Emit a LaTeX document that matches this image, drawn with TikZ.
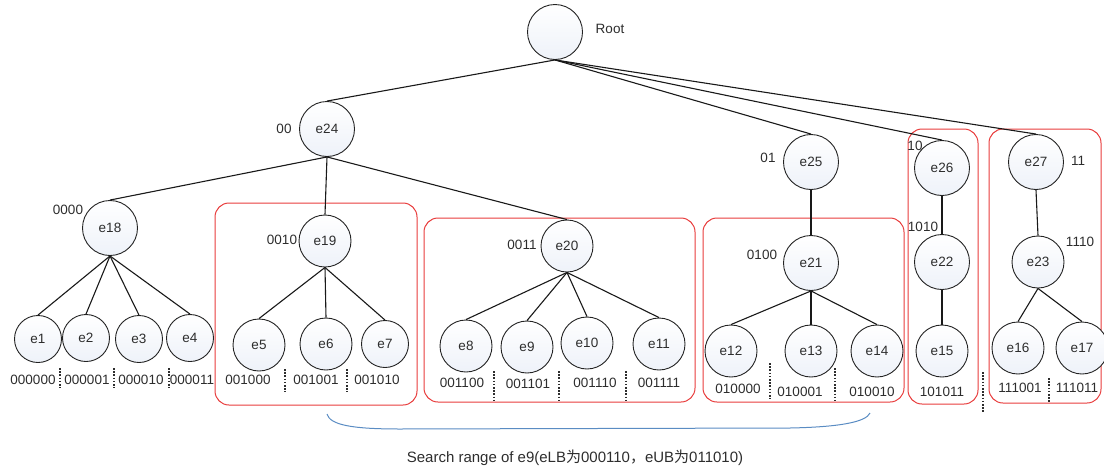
\documentclass[tikz,border=0pt]{standalone}
\usepackage{fontspec}
\setmainfont{Liberation Sans}
\newfontfamily\cjk{Noto Sans CJK SC}
\definecolor{txtgray}{RGB}{45,45,45}
\definecolor{circgray}{RGB}{35,35,35}
\definecolor{nodeshade}{RGB}{238,242,249}
\definecolor{boxred}{RGB}{232,60,60}
\definecolor{bracebl}{RGB}{90,140,195}
\begin{document}
\begin{tikzpicture}[x=1pt,y=-1pt,
  every node/.style={font=\fontsize{13.5}{15}\selectfont, text=txtgray},
  tnode/.style={circle, draw=circgray, line width=0.9pt, inner sep=0pt,
    minimum size=52pt, top color=white, bottom color=nodeshade},
  bignode/.style={tnode, minimum size=55pt},
  smallnode/.style={tnode, minimum size=47pt},
  edge/.style={draw=black!90, line width=1.1pt},
  groupbox/.style={draw=boxred, line width=1pt, rounded corners=14pt},
  sep/.style={draw=txtgray, line width=1.2pt, dash pattern=on 1.6pt off 1.6pt},
  bits/.style={inner sep=0pt},
  tag/.style={inner sep=0pt}
]
\useasboundingbox (0,0) rectangle (1104,472);

% group frames
\draw[groupbox] (215,203) rectangle (417,405);
\draw[groupbox] (424,218) rectangle (695,402);
\draw[groupbox] (703,218) rectangle (904,402);
\draw[groupbox] (908,129) rectangle (978,404);
\draw[groupbox] (989,129) rectangle (1101,403);

% tree nodes
\node[bignode] (root) at (555,32) {};
\node[bignode] (e24) at (327,129) {e24};
\node[bignode] (e25) at (811,162) {e25};
\node[bignode] (e26) at (942,168) {e26};
\node[bignode] (e27) at (1036,162) {e27};

\node[bignode] (e18) at (110,228) {e18};
\node[tnode] (e19) at (325,241) {e19};
\node[tnode] (e20) at (567,246) {e20};
\node[bignode] (e21) at (811,263) {e21};
\node[bignode] (e22) at (942,262) {e22};
\node[tnode] (e23) at (1038,262) {e23};

\node[smallnode] (e1) at (38,339) {e1};
\node[smallnode] (e2) at (86,338) {e2};
\node[smallnode] (e3) at (139,339) {e3};
\node[smallnode] (e4) at (190,338) {e4};
\node[tnode] (e5) at (259,345) {e5};
\node[tnode] (e6) at (326,344) {e6};
\node[smallnode] (e7) at (385,344) {e7};
\node[tnode] (e8) at (466,346) {e8};
\node[tnode] (e9) at (527,347) {e9};
\node[tnode] (e10) at (587,343) {e10};
\node[tnode] (e11) at (659,344) {e11};
\node[tnode] (e12) at (731,351) {e12};
\node[tnode] (e13) at (811,351) {e13};
\node[tnode] (e14) at (877,351) {e14};
\node[tnode] (e15) at (942,351) {e15};
\node[tnode] (e16) at (1018,348) {e16};
\node[tnode] (e17) at (1082,348) {e17};

% connectors
\foreach \c in {e24,e25,e26,e27} \draw[edge] (root.south) -- (\c.north);
\foreach \c in {e18,e19,e20} \draw[edge] (e24.south) -- (\c.north);
\foreach \c in {e1,e2,e3,e4} \draw[edge] (e18.south) -- (\c.north);
\foreach \c in {e5,e6,e7} \draw[edge] (e19.south) -- (\c.north);
\foreach \c in {e8,e9,e10,e11} \draw[edge] (e20.south) -- (\c.north);
\draw[edge] (e25.south) -- (e21.north);
\foreach \c in {e12,e13,e14} \draw[edge] (e21.south) -- (\c.north);
\draw[edge] (e26.south) -- (e22.north);
\draw[edge] (e22.south) -- (e15.north);
\draw[edge] (e27.south) -- (e23.north);
\foreach \c in {e16,e17} \draw[edge] (e23.south) -- (\c.north);

% prefix tags
\node[tag] (troot) at (610,29) {Root};
\node[tag] (t24) at (284,129) {00};
\node[tag] (t25) at (768,158) {01};
\node[tag] (t26) at (915,146) {10};
\node[tag] (t27) at (1078,161) {11};
\node[tag] (t18) at (68,210) {0000};
\node[tag] (t19) at (282,240) {0010};
\node[tag] (t20) at (522,245) {0011};
\node[tag] (t21) at (762,255) {0100};
\node[tag] (t22) at (923,227) {1010};
\node[tag] (t23) at (1080,242) {1110};

% leaf codes
\node[bits] (b1) at (33,380) {000000};
\node[bits] (b2) at (87,380) {000001};
\node[bits] (b3) at (141,380) {000010};
\node[bits] (b4) at (192,380) {000011};
\node[bits] (b5) at (248,380) {001000};
\node[bits] (b6) at (316,380) {001001};
\node[bits] (b7) at (377,380) {001010};
\node[bits] (b8) at (462,383) {001100};
\node[bits] (b9) at (528,384) {001101};
\node[bits] (b10) at (595,383) {001110};
\node[bits] (b11) at (659,383) {001111};
\node[bits] (b12) at (738,389) {010000};
\node[bits] (b13) at (800,392) {010001};
\node[bits] (b14) at (872,392) {010010};
\node[bits] (b15) at (942,392) {101011};
\node[bits] (b16) at (1020,388) {111001};
\node[bits] (b17) at (1077,388) {111011};

% dotted separators between leaf codes
\draw[sep] (60,368) -- (60,388);
\draw[sep] (114,368) -- (114,388);
\draw[sep] (169,368) -- (169,388);
\draw[sep] (285,369) -- (285,392);
\draw[sep] (347,369) -- (347,392);
\draw[sep] (494,371) -- (494,401);
\draw[sep] (559,371) -- (559,402);
\draw[sep] (626,371) -- (626,401);
\draw[sep] (770,363) -- (770,399);
\draw[sep] (835,368) -- (835,401);
\draw[sep] (983,372) -- (983,413);
\draw[sep] (1049,378) -- (1049,403);

% search range brace
\draw[bracebl, line width=1pt]
  (327,414) .. controls (330,425) and (352,429) .. (400,429)
  -- (790,428) .. controls (840,427) and (866,422) .. (870,413);

\node[tag, font=\fontsize{15}{17}\selectfont] (caption) at (575,458)
  {Search range of e9(eLB{\cjk 为}000110{\cjk ，}eUB{\cjk 为}011010)};
\end{tikzpicture}
\end{document}
